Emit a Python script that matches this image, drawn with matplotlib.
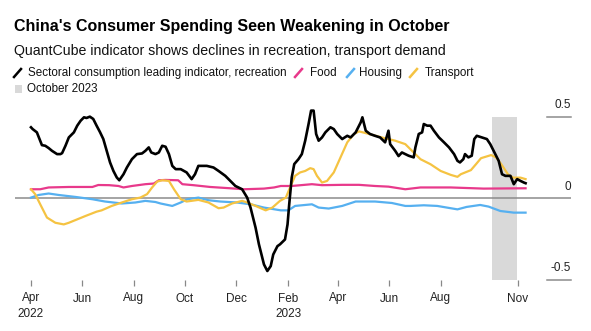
import numpy as np
import matplotlib
matplotlib.use("Agg")
import matplotlib.pyplot as plt
import matplotlib.transforms as mtransforms

plt.rcParams['font.family'] = ['Liberation Sans', 'DejaVu Sans']

# ---------------- data (day offsets from 2022-04-01) ----------------
start = np.datetime64('2022-04-01')

rec_days = [0, 2, 7, 13, 17, 21, 25, 31, 35, 37, 41, 45, 51, 55, 59, 63, 66, 70, 74, 78,
            82, 86, 90, 94, 98, 102, 105, 110, 114, 120, 126, 132, 136, 140, 143, 148, 152,
            156, 160, 164, 168, 172, 178, 185, 191, 195, 199, 203, 209, 217, 223, 231, 237,
            243, 251, 257, 261, 267, 271, 277, 281, 285, 288, 293, 296, 302, 305, 307, 310,
            313, 318, 322, 326, 330, 333, 336, 339, 342, 346, 350, 356, 360, 364, 370, 376,
            380, 386, 392, 394, 398, 403, 409, 415, 421, 425, 427, 433, 437, 441, 445, 449,
            455, 457, 461, 465, 467, 471, 475, 479, 485, 491, 497, 503, 507, 510, 514, 516,
            520, 524, 527, 530, 536, 542, 546, 552, 556, 560, 564, 570, 574, 578, 582, 586, 588]
rec_vals = [0.434, 0.423, 0.403, 0.325, 0.321, 0.307, 0.290, 0.270, 0.270, 0.276, 0.321,
            0.372, 0.403, 0.444, 0.474, 0.495, 0.491, 0.499, 0.485, 0.444, 0.405, 0.362,
            0.290, 0.219, 0.167, 0.127, 0.110, 0.147, 0.188, 0.239, 0.270, 0.274, 0.290,
            0.311, 0.280, 0.270, 0.280, 0.321, 0.315, 0.270, 0.198, 0.178, 0.178, 0.158,
            0.117, 0.147, 0.198, 0.198, 0.198, 0.188, 0.167, 0.137, 0.106, 0.075, 0.055,
            0.004, -0.057, -0.180, -0.282, -0.405, -0.445, -0.415, -0.344, -0.293, -0.282,
            -0.252, -0.160, -0.037, 0.127, 0.209, 0.239, 0.270, 0.352, 0.454, 0.536, 0.536,
            0.393, 0.352, 0.372, 0.403, 0.434, 0.423, 0.393, 0.362, 0.382, 0.372, 0.403,
            0.464, 0.495, 0.413, 0.393, 0.382, 0.372, 0.342, 0.413, 0.331, 0.290, 0.258,
            0.280, 0.270, 0.260, 0.250, 0.311, 0.393, 0.403, 0.454, 0.444, 0.444, 0.413,
            0.372, 0.342, 0.311, 0.270, 0.229, 0.219, 0.239, 0.270, 0.250, 0.260, 0.362,
            0.382, 0.372, 0.362, 0.331, 0.270, 0.229, 0.147, 0.137, 0.137, 0.086, 0.117,
            0.106, 0.096, 0.092]

food_days = [0, 11, 21, 45, 73, 80, 93, 104, 110, 120, 136, 146, 152, 160, 175, 180, 193,
             213, 237, 253, 277, 289, 297, 310, 334, 346, 370, 390, 409, 425, 445, 463, 499,
             538, 588]
food_vals = [0.055, 0.055, 0.066, 0.069, 0.069, 0.081, 0.080, 0.075, 0.066, 0.075, 0.086,
             0.090, 0.110, 0.112, 0.110, 0.086, 0.080, 0.069, 0.061, 0.055, 0.059, 0.066,
             0.075, 0.075, 0.086, 0.080, 0.082, 0.082, 0.075, 0.071, 0.055, 0.066, 0.066,
             0.059, 0.061]

housing_days = [0, 9, 21, 33, 53, 73, 88, 108, 124, 136, 148, 154, 168, 178, 186, 199, 211,
                225, 245, 261, 277, 297, 306, 314, 334, 342, 354, 370, 386, 409, 429, 445,
                451, 467, 483, 507, 518, 534, 544, 558, 574, 588]
housing_vals = [0.004, 0.020, 0.029, 0.020, 0.008, -0.006, -0.020, -0.032, -0.026, -0.016,
                -0.023, -0.032, -0.047, -0.026, -0.006, 0.004, -0.012, -0.020, -0.026,
                -0.037, -0.057, -0.074, -0.074, -0.047, -0.037, -0.057, -0.063, -0.047,
                -0.020, -0.020, -0.029, -0.047, -0.047, -0.043, -0.047, -0.068, -0.053,
                -0.041, -0.051, -0.078, -0.088, -0.088]

transport_days = [0, 5, 11, 19, 29, 39, 45, 55, 65, 78, 84, 96, 108, 120, 130, 138, 144, 150,
                  156, 164, 170, 178, 185, 199, 211, 223, 229, 239, 251, 257, 267, 279, 287,
                  296, 303, 308, 314, 320, 326, 332, 336, 340, 346, 352, 360, 368, 376, 384,
                  390, 402, 417, 433, 445, 453, 463, 475, 487, 499, 507, 511, 523, 529, 535,
                  547, 553, 559, 567, 573, 582, 588]
transport_vals = [0.055, 0.025, -0.037, -0.118, -0.150, -0.160, -0.150, -0.129, -0.108,
                  -0.082, -0.074, -0.047, -0.026, -0.006, 0.004, 0.025, 0.066, 0.102, 0.110,
                  0.106, 0.055, -0.006, -0.020, -0.010, -0.026, -0.061, -0.057, -0.032,
                  -0.016, -0.026, -0.047, -0.074, -0.057, -0.016, 0.004, 0.066, 0.137,
                  0.158, 0.167, 0.184, 0.178, 0.137, 0.096, 0.106, 0.158, 0.250, 0.342,
                  0.393, 0.409, 0.393, 0.372, 0.352, 0.331, 0.290, 0.239, 0.208, 0.167,
                  0.143, 0.131, 0.147, 0.172, 0.208, 0.245, 0.264, 0.250, 0.209, 0.147,
                  0.126, 0.126, 0.117]

shade_range = ['2023-10-01', '2023-10-31']
xtick_dates = ['2022-04-01', '2022-06-01', '2022-08-01', '2022-10-01', '2022-12-01',
               '2023-02-01', '2023-04-01', '2023-06-01', '2023-08-01', '2023-11-01']
xtick_labels = ['Apr\n2022', 'Jun', 'Aug', 'Oct', 'Dec', 'Feb\n2023', 'Apr', 'Jun', 'Aug', 'Nov']
ytick_vals = [-0.5, 0, 0.5]
ytick_labels = ['-0.5', '0', '0.5']

series_names = ['Sectoral consumption leading indicator, recreation', 'Food', 'Housing', 'Transport']
series_colors = ['#000000', '#e8398b', '#56b0f0', '#f5c342']

# ---------------- figure ----------------
W, H = 591, 331
fig = plt.figure(figsize=(W / 100, H / 100), dpi=100)

def px(x, y):
    return x / W, 1 - y / H

ax_l, ax_r, ax_t, ax_b = 15, 571, 116.5, 280
ax = fig.add_axes([ax_l / W, 1 - ax_b / H, (ax_r - ax_l) / W, (ax_b - ax_t) / H])
ax.set_ylim(-0.5, 0.5)
ax.set_xlim(np.datetime64('2022-03-13'), np.datetime64('2024-01-03'))
for s in ax.spines.values():
    s.set_visible(False)
ax.patch.set_alpha(0)

def to_dates(days):
    return start + np.array(days).astype('timedelta64[D]')

ax.axvspan(np.datetime64(shade_range[0]), np.datetime64(shade_range[1]),
           color='#d9d9d9', lw=0, zorder=0)
ax.axhline(0, color='#8c8c8c', lw=1.1, zorder=1)

trans = mtransforms.blended_transform_factory(ax.transAxes, ax.transData)
for v, lab in zip(ytick_vals, ytick_labels):
    if v != 0:
        ax.plot([(547 - ax_l) / (ax_r - ax_l), 1], [v, v], color='#8c8c8c', lw=1.1,
                transform=trans, clip_on=False)
    ax.text(1, v + 0.035, lab, transform=trans, ha='right', va='bottom',
            fontsize=8.5, color='#222222')

ax.plot(to_dates(housing_days), housing_vals, color=series_colors[2], lw=1.6, zorder=3, clip_on=False)
ax.plot(to_dates(food_days), food_vals, color=series_colors[1], lw=1.6, zorder=3, clip_on=False)
ax.plot(to_dates(transport_days), transport_vals, color=series_colors[3], lw=1.6, zorder=4, clip_on=False)
ax.plot(to_dates(rec_days), rec_vals, color=series_colors[0], lw=1.9, zorder=5, clip_on=False)

ax.set_yticks([])
ax.set_xticks([np.datetime64(d) for d in xtick_dates])
ax.set_xticklabels(xtick_labels, fontsize=8.5, color='#222222', linespacing=1.35)
ax.tick_params(axis='x', length=4, width=0.9, color='#888888', pad=5)

# ---------------- titles ----------------
fig.text(*px(14, 27), "China's Consumer Spending Seen Weakening in October",
         fontsize=11.5, fontweight='bold', ha='left', va='center', color='#000000')
fig.text(*px(14, 51), "QuantCube indicator shows declines in recreation, transport demand",
         fontsize=10.2, ha='left', va='center', color='#111111')

# ---------------- legend ----------------
leg_y = 73
icon_x = [14, 295, 347, 410]
text_x = [28, 310, 359, 425]
for ix, tx, name, col in zip(icon_x, text_x, series_names, series_colors):
    x0, y0 = px(ix, leg_y + 4)
    x1, y1 = px(ix + 7, leg_y - 4)
    fig.add_artist(plt.Line2D([x0, x1], [y0, y1], color=col, lw=1.8,
                              transform=fig.transFigure))
    fig.text(*px(tx, leg_y), name, fontsize=8.4, ha='left', va='center', color='#111111')

sx, sy = px(15, 93)
fig.add_artist(plt.Rectangle((sx, sy), 7 / W, 8 / H, color='#d9d9d9',
                             transform=fig.transFigure, lw=0))
fig.text(*px(27, 89), "October 2023", fontsize=8.4, ha='left', va='center', color='#111111')

fig.savefig('out.png', dpi=100)
